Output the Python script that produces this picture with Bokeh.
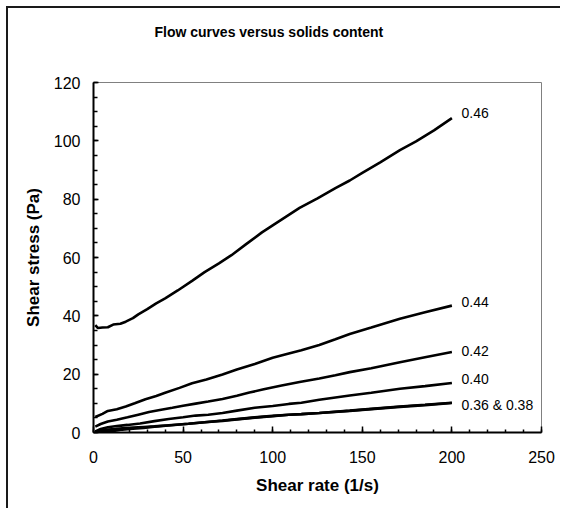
from bokeh.plotting import figure
from bokeh.models import Range1d, SingleIntervalTicker, Label, Title
from bokeh.embed import file_html
from bokeh.resources import INLINE

# ---- data ----
x46 = [1, 2.5, 5, 8, 11, 15, 18, 22, 25, 30, 35, 40, 47, 55, 62, 70, 77, 85, 94, 100,
       109, 115, 125, 135, 143, 150, 160, 171, 180, 190, 200]
y46 = [36.8, 35.8, 36.0, 36.1, 37.0, 37.3, 38.0, 39.2, 40.5, 42.3, 44.3, 46.0, 48.7, 52.0,
       55.0, 58.0, 60.8, 64.5, 68.6, 71.0, 74.6, 77.0, 80.3, 83.8, 86.4, 89.0, 92.6, 96.8,
       99.8, 103.6, 107.8]

x44 = [1, 5, 8, 13, 18, 23, 29, 35, 40, 48, 55, 63, 72, 80, 90, 100, 109, 116, 126, 135,
       143, 155, 171, 185, 200]
y44 = [5.3, 6.4, 7.4, 8.0, 8.9, 10.0, 11.4, 12.5, 13.6, 15.3, 16.9, 18.2, 19.9, 21.6,
       23.5, 25.6, 27.1, 28.2, 30.0, 32.0, 33.8, 36.0, 39.0, 41.2, 43.5]

x42 = [1, 4, 8, 13, 19, 25, 31, 37, 44, 50, 57, 64, 72, 80, 87, 95, 105, 115, 126, 135,
       143, 155, 171, 185, 200]
y42 = [2.0, 2.9, 3.8, 4.4, 5.2, 6.1, 7.0, 7.7, 8.5, 9.2, 9.9, 10.6, 11.5, 12.6, 13.7,
       14.8, 16.1, 17.3, 18.5, 19.6, 20.7, 22.0, 24.1, 25.8, 27.6]

x40 = [1, 4, 8, 13, 19, 26, 34, 42, 50, 57, 64, 72, 80, 90, 100, 109, 116, 126, 135, 143,
       155, 171, 185, 200]
y40 = [0.4, 1.2, 1.8, 2.2, 2.6, 3.1, 3.9, 4.6, 5.2, 5.8, 6.1, 6.7, 7.5, 8.5, 9.1, 9.8,
       10.2, 11.2, 12.0, 12.7, 13.6, 15.0, 15.9, 17.0]

x38 = [1, 4, 8, 12, 16, 22, 28, 34, 42, 53, 62, 72, 80, 90, 100, 109, 116, 126, 143, 155,
       171, 185, 200]
y38 = [0.3, 0.7, 1.0, 1.2, 1.4, 1.7, 1.9, 2.1, 2.5, 3.0, 3.5, 4.1, 4.6, 5.2, 5.7, 6.1,
       6.3, 6.7, 7.5, 8.1, 8.9, 9.5, 10.2]

x36 = [1, 4, 8, 12, 16, 22, 28, 34, 42, 53, 62, 72, 80, 90, 100, 109, 116, 126, 143, 155,
       171, 185, 200]
y36 = [0.0, 0.1, 0.3, 0.6, 1.0, 1.3, 1.6, 2.0, 2.4, 3.0, 3.5, 4.0, 4.5, 5.1, 5.6, 6.1,
       6.3, 6.7, 7.4, 8.0, 8.8, 9.4, 10.1]

series_x = [x46, x44, x42, x40, x38, x36]
series_y = [y46, y44, y42, y40, y38, y36]

end_labels = ["0.46", "0.44", "0.42", "0.40", "0.36 & 0.38"]
end_label_x = [205.4, 205.4, 205.4, 205.4, 205.4]
end_label_y = [109.4, 44.7, 28.1, 18.2, 9.5]

title_text = "Flow curves versus solids content"
x_label = "Shear rate (1/s)"
y_label = "Shear stress (Pa)"

FONT = "Liberation Sans"

p = figure(width=554, height=502, title=None,
           x_range=Range1d(0, 250), y_range=Range1d(0, 120),
           output_backend="svg", toolbar_location=None,
           min_border_left=85, min_border_right=21, min_border_top=74, min_border_bottom=78,
           styles={"margin-left": "6px", "margin-top": "6px",
                   "border-left": "2px solid #1a1a1a", "border-top": "2px solid #1a1a1a"})

# spacer between frame and title (closest to frame)
p.add_layout(Title(text=" ", text_font_size="1px", standoff=22), "above")
# the chart title
p.add_layout(Title(text=title_text, align="left", offset=61, vertical_align="top",
                   text_font=FONT, text_font_size="14px", text_font_style="bold",
                   text_color="black", standoff=31), "above")

p.outline_line_color = "#808080"
p.outline_line_width = 1
p.xgrid.visible = False
p.ygrid.visible = False
p.background_fill_color = "white"
p.border_fill_color = "white"

p.xaxis.ticker = SingleIntervalTicker(interval=50, num_minor_ticks=5)
p.yaxis.ticker = SingleIntervalTicker(interval=20, num_minor_ticks=4)

for ax in (p.xaxis[0], p.yaxis[0]):
    ax.axis_line_color = "black"
    ax.axis_line_width = 2
    ax.major_tick_line_color = "black"
    ax.minor_tick_line_color = "black"
    ax.major_tick_line_width = 1.5
    ax.minor_tick_line_width = 1.5
    ax.major_tick_out = 0
    ax.minor_tick_out = 0
    ax.major_label_text_font = FONT
    ax.major_label_text_font_size = "16px"
    ax.major_label_text_color = "black"
    ax.axis_label_text_font = FONT
    ax.axis_label_text_font_size = "17px"
    ax.axis_label_text_font_style = "bold"
    ax.axis_label_text_color = "black"

p.xaxis.major_tick_in = 6
p.xaxis.minor_tick_in = 3
p.yaxis.major_tick_in = 5
p.yaxis.minor_tick_in = 4
p.xaxis.major_label_standoff = 18
p.yaxis.major_label_standoff = 13
p.xaxis.axis_label = x_label
p.yaxis.axis_label = y_label
p.xaxis.axis_label_standoff = 10
p.yaxis.axis_label_standoff = 8

for xs, ys in zip(series_x, series_y):
    p.line(xs, ys, line_color="black", line_width=2.6)

for t, lx, ly in zip(end_labels, end_label_x, end_label_y):
    p.add_layout(Label(x=lx, y=ly, text=t, text_font=FONT, text_font_size="14px",
                       text_color="black", text_baseline="middle", text_align="left"))

open("out.html", "w").write(file_html(p, INLINE))
